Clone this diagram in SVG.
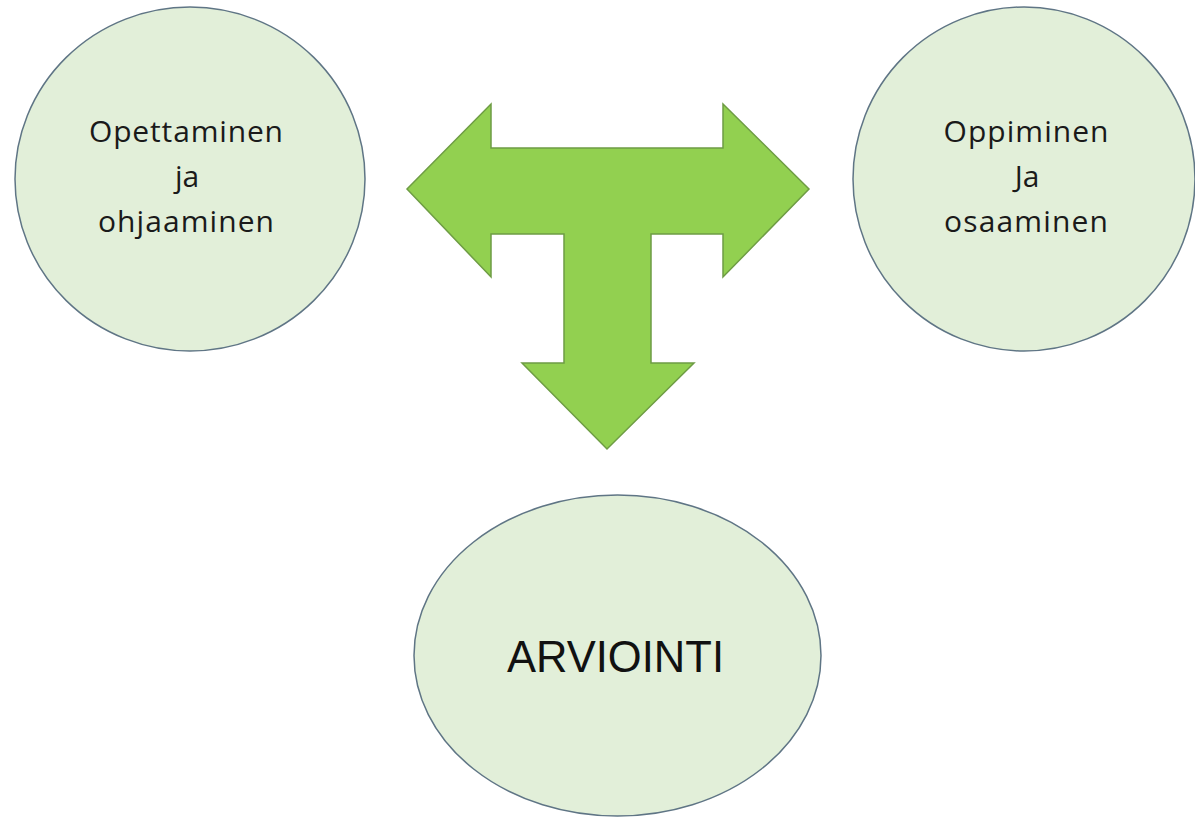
<svg xmlns="http://www.w3.org/2000/svg" width="1195" height="817" viewBox="0 0 1195 817">
<style>
.node { fill: #e2efd9; stroke: #5f7585; stroke-width: 1.5; }
.lbl { font-family: "Open Sans", "Liberation Sans", sans-serif; font-size: 30px; fill: #1a1a1a; text-anchor: middle; }
.big { font-family: "Liberation Sans", Arial, sans-serif; font-size: 45px; fill: #111; text-anchor: middle; }
.arrow { fill: #92d050; stroke: #6e9c44; stroke-width: 1.5; stroke-linejoin: miter; }
</style>
<rect width="1195" height="817" fill="#ffffff"/>
<g id="node-opettaminen">
<ellipse class="node" cx="190" cy="179" rx="175" ry="172"/>
<text class="lbl" x="186" y="142" textLength="194" lengthAdjust="spacing">Opettaminen</text>
<text class="lbl" x="187" y="187">ja</text>
<text class="lbl" x="186" y="232" textLength="176" lengthAdjust="spacing">ohjaaminen</text>
</g>
<g id="node-oppiminen">
<ellipse class="node" cx="1024" cy="179" rx="171" ry="172"/>
<text class="lbl" x="1026" y="142" textLength="165" lengthAdjust="spacing">Oppiminen</text>
<text class="lbl" x="1027" y="187">Ja</text>
<text class="lbl" x="1026" y="232" textLength="164" lengthAdjust="spacing">osaaminen</text>
</g>
<g id="node-arviointi">
<ellipse class="node" cx="617.5" cy="655.5" rx="203.5" ry="160.5"/>
<text class="big" x="615.5" y="672" textLength="217" lengthAdjust="spacingAndGlyphs">ARVIOINTI</text>
</g>
<g id="connectors">
<polygon class="arrow" points="407,189 491,104 491,148 723,148 723,104 809,189 723,277 723,234 651,234 651,363 694,363 607,449 522,363 564,363 564,234 491,234 491,277"/>
</g>
</svg>
